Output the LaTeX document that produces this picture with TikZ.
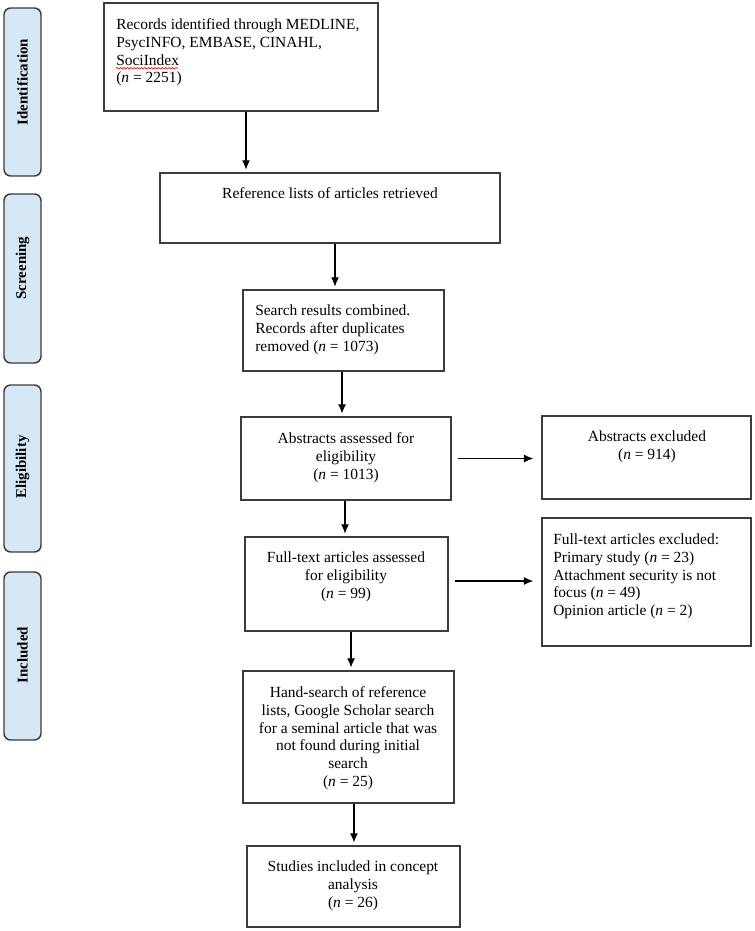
\documentclass[tikz,border=0pt]{standalone}
\usepackage{fontspec}
\setmainfont{Liberation Serif}
\usetikzlibrary{arrows.meta,decorations.pathmorphing}
\definecolor{phasefill}{RGB}{214,232,245}
\definecolor{edge}{RGB}{60,60,60}
\begin{document}
\begin{tikzpicture}[x=0.75pt,y=-0.75pt,
  sz/.style 2 args={minimum width=#1*0.75pt,minimum height=#2*0.75pt},
  box/.style={draw=edge,line width=1.1pt,inner sep=0pt},
  phase/.style={draw=edge,line width=1.1pt,rounded corners=5pt,fill=phasefill,inner sep=0pt,rotate=90},
  phasetxt/.style={inner sep=0pt,rotate=90,font=\fontsize{11.2}{13}\selectfont\bfseries},
  txtc/.style={inner sep=0pt,anchor=north,align=center,font=\fontsize{11.6}{13.4}\selectfont},
  txtl/.style={inner sep=0pt,anchor=north west,align=left,font=\fontsize{11.6}{13.4}\selectfont},
  arr/.style={draw=black,line width=0.9pt,-{Latex[length=7pt,width=6pt]}}]
\useasboundingbox (0,0) rectangle (755,931);

% phase labels
\node[phase,sz={168}{37}] (p1) at (22.5,92) {};
\node[phase,sz={169}{37}] (p2) at (22.5,278.5) {};
\node[phase,sz={167}{37}] (p3) at (22.5,468.5) {};
\node[phase,sz={168}{37}] (p4) at (22.5,656) {};
\node[phasetxt] (l1) at (22.5,82) {Identification};
\node[phasetxt] (l2) at (22.5,268) {Screening};
\node[phasetxt] (l3) at (22.5,467) {Eligibility};
\node[phasetxt] (l4) at (22.5,655) {Included};

% boxes
\node[box,sz={274}{108}] (b1) at (241,57) {};
\node[box,sz={340}{70}] (b2) at (330,208) {};
\node[box,sz={201}{81}] (b3) at (343.5,330.5) {};
\node[box,sz={210}{83}] (b4) at (346,458.5) {};
\node[box,sz={209}{83}] (e1) at (646.5,457.5) {};
\node[box,sz={203}{94}] (b5) at (346.5,584) {};
\node[box,sz={209}{128}] (e2) at (646.5,582) {};
\node[box,sz={211}{132}] (b6) at (348.5,737) {};
\node[box,sz={213}{81}] (b7) at (353.5,886.5) {};

% texts
\node[txtl] (t1) at (116,16.5) {\strut Records identified through MEDLINE,\\PsycINFO, EMBASE, CINAHL,\\SociIndex\\(\textit{n} = 2251)};
\draw[red,line width=0.5pt,decorate,decoration={snake,amplitude=0.6pt,segment length=2.6pt}]
  (116,68.3) -- (178,68.3);
\node[txtc] (t2) at (330,185.5) {\strut Reference lists of articles retrieved};
\node[txtl] (t3) at (255,302.5) {\strut Search results combined.\\Records after duplicates\\removed (\textit{n} = 1073)};
\node[txtc] (t4) at (346,430.5) {\strut Abstracts assessed for\\eligibility\\(\textit{n} = 1013)};
\node[txtc] (te1) at (647,428.5) {\strut Abstracts excluded\\(\textit{n} = 914)};
\node[txtc] (t5) at (346,549.5) {\strut Full-text articles assessed\\for eligibility\\(\textit{n} = 99)};
\node[txtl] (te2) at (553,531.5) {\strut Full-text articles excluded:\\Primary study (\textit{n} = 23)\\Attachment security is not\\focus (\textit{n} = 49)\\Opinion article (\textit{n} = 2)};
\node[txtc] (t6) at (348,684.5) {\strut Hand-search of reference\\lists, Google Scholar search\\for a seminal article that was\\not found during initial\\search\\(\textit{n} = 25)};
\node[txtc] (t7) at (353,858.5) {\strut Studies included in concept\\analysis\\(\textit{n} = 26)};

% connectors
\coordinate (a1) at ([xshift=3.75pt]b1.south);
\draw[arr,shorten >=2pt] (a1) -- (a1 |- b2.north);
\coordinate (a2) at ([xshift=3.75pt]b2.south);
\draw[arr,shorten >=2pt] (a2) -- (a2 |- b3.north);
\coordinate (a3) at ([xshift=-1.1pt]b3.south);
\draw[arr,shorten >=2pt] (a3) -- (a3 |- b4.north);
\coordinate (a4) at ([xshift=0pt]b4.east);
\draw[arr,shorten <=4.5pt,shorten >=6pt] (a4) -- (a4 -| e1.west);
\coordinate (a5) at ([xshift=-0.75pt]b4.south);
\draw[arr,shorten >=2pt] (a5) -- (a5 |- b5.north);
\coordinate (a6) at ([yshift=2.25pt]b5.east);
\draw[arr,shorten <=4.5pt,shorten >=6pt] (a6) -- (a6 -| e2.west);
\coordinate (a7) at ([xshift=3.4pt]b5.south);
\draw[arr,shorten >=2pt] (a7) -- (a7 |- b6.north);
\coordinate (a8) at ([xshift=4.1pt]b6.south);
\draw[arr,shorten >=2pt] (a8) -- (a8 |- b7.north);
\end{tikzpicture}
\end{document}
